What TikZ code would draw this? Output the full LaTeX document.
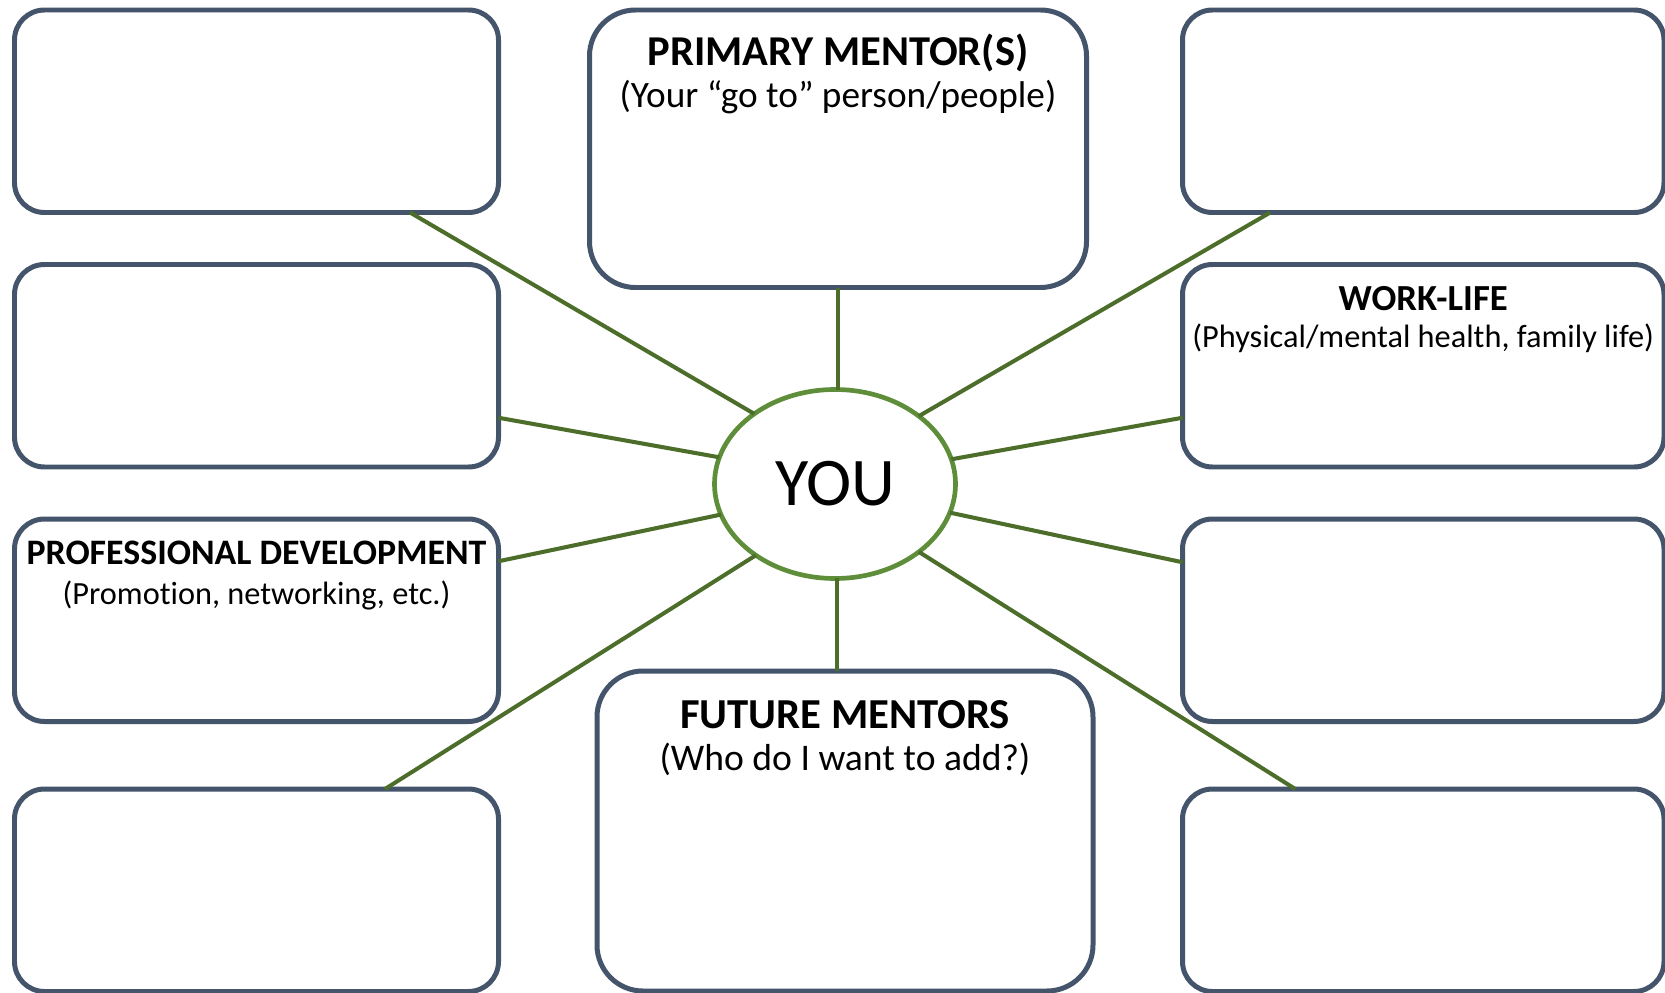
\documentclass[tikz,border=0pt]{standalone}
\usepackage{fontspec}
\setmainfont{Carlito}[Ligatures=NoCommon]
\usetikzlibrary{shapes.geometric}

\definecolor{boxgray}{RGB}{68,84,106}
\definecolor{hubgreen}{RGB}{94,142,58}
\definecolor{spokegreen}{RGB}{76,110,42}

\tikzset{
  slot/.style={draw=boxgray, fill=white, line width=1.42pt, rounded corners=3mm,
    minimum width=4.84cm, minimum height=2.025cm, inner sep=0pt, outer sep=0pt},
  bigslot/.style={slot, rounded corners=4.6mm},
  hub/.style={ellipse, draw=hubgreen, line width=1.33pt, minimum width=2.41cm,
    minimum height=1.89cm, inner sep=0pt, outer sep=0pt,
    font=\fontsize{19.4}{23}\selectfont},
  spoke/.style={draw=spokegreen, line width=1.15pt},
  headline/.style={anchor=base, inner sep=0pt, font=\bfseries\fontsize{#1}{#1}\selectfont},
  subline/.style={anchor=base, inner sep=0pt, font=\fontsize{#1}{#1}\selectfont}
}

\begin{document}
\begin{tikzpicture}
\useasboundingbox (0,0) rectangle (16.65,-9.93);

% left column
\node[slot] (tl) at (2.565,-1.1125) {};
\node[slot] (ml) at (2.565,-3.6575) {};
\node[slot] (pd) at (2.565,-6.2025) {};
\node[slot] (bl) at (2.565,-8.9025) {};

% right column
\node[slot, minimum width=4.815cm] (tr) at (14.2325,-1.1125) {};
\node[slot, minimum width=4.815cm] (wl) at (14.2325,-3.6575) {};
\node[slot, minimum width=4.815cm] (mr) at (14.2325,-6.2025) {};
\node[slot, minimum width=4.815cm] (br) at (14.2325,-8.9025) {};

% middle
\node[bigslot, minimum width=4.97cm, minimum height=2.775cm] (pm) at (8.38,-1.4875) {};
\node[bigslot, minimum width=4.96cm, minimum height=3.2cm] (fm) at (8.45,-8.31) {};
\node[hub] (you) at (8.35,-4.84) {YOU};

% labels
\node[headline=12.1] (pm-head) at ([yshift=-5.5mm]pm.north) {PRIMARY MENTOR(S)};
\node[subline=10.6] (pm-sub) at ([yshift=-9.7mm]pm.north) {(Your “go to” person/people)};
\node[headline=10.45] (wl-head) at ([yshift=-4.62mm]wl.north) {WORK-LIFE};
\node[subline=9.2] (wl-sub) at ([yshift=-8.3mm]wl.north) {(Physical/mental health, family life)};
\node[headline=10.2] (pd-head) at ([yshift=-4.5mm]pd.north) {PROFESSIONAL DEVELOPMENT};
\node[subline=9.2] (pd-sub) at ([yshift=-8.55mm]pd.north) {(Promotion, networking, etc.)};
\node[headline=12.15] (fm-head) at ([yshift=-5.7mm]fm.north) {FUTURE MENTORS};
\node[subline=10.7] (fm-sub) at ([yshift=-9.97mm]fm.north) {(Who do I want to add?)};

% spokes
\draw[spoke] ([xshift=15.35mm]tl.south) -- (you.139);
\draw[spoke] ([yshift=-5.2mm]ml.east) -- (you.167);
\draw[spoke] ([yshift=5.9mm]pd.east) -- (you.195);
\draw[spoke] ([xshift=12.85mm]bl.north) -- (you.222);
\draw[spoke] (you.88) -- (you.88 |- pm.south);
\draw[spoke] ([xshift=-15.3mm]tr.south) -- (you.39);
\draw[spoke] ([yshift=-5.2mm]wl.west) -- (you.12);
\draw[spoke] ([yshift=5.8mm]mr.west) -- (you.-14);
\draw[spoke] ([xshift=-12.8mm]br.north) -- (you.-39);
\draw[spoke] (you.-89) -- (you.-89 |- fm.north);
\end{tikzpicture}
\end{document}
